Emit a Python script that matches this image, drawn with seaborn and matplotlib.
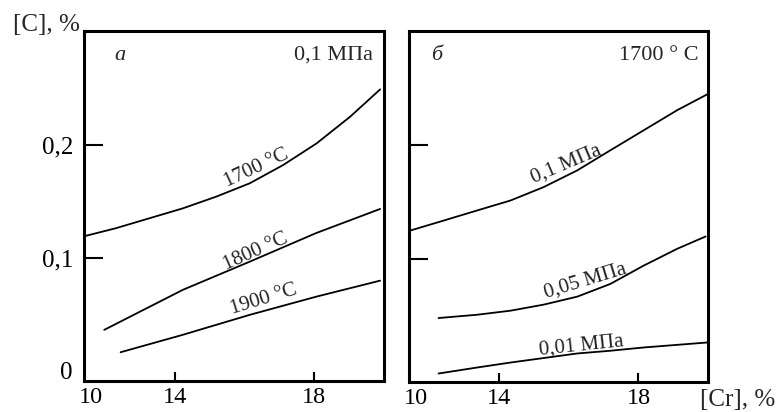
import matplotlib
matplotlib.use("Agg")
import matplotlib.pyplot as plt
import seaborn as sns
import pandas as pd

# ---- data ----
# panel "а": 0,1 MPa, three temperatures
a_1700_x = [11.35, 12.31, 13.27, 14.23, 15.19, 16.15, 17.11, 18.07, 19.03, 19.89]
a_1700_y = [0.1188, 0.1263, 0.1351, 0.1439, 0.1543, 0.1661, 0.1823, 0.2015, 0.2251, 0.2493]
a_1800_x = [11.98, 14.23, 16.15, 18.06, 19.89]
a_1800_y = [0.0363, 0.0717, 0.0967, 0.1221, 0.1434]
a_1900_x = [12.45, 14.23, 16.15, 18.07, 19.89]
a_1900_y = [0.0165, 0.0319, 0.0496, 0.0658, 0.0799]
a_labels = ["1700 °C", "1800 °C", "1900 °C"]

# panel "б": 1700 °C, three pressures
b_01_x = [11.44, 12.40, 13.36, 14.32, 15.27, 16.24, 17.19, 18.15, 19.11, 19.98]
b_01_y = [0.1248, 0.1336, 0.1425, 0.1513, 0.1631, 0.1779, 0.1956, 0.2133, 0.2310, 0.2451]
b_005_x = [12.25, 13.36, 14.32, 15.27, 16.24, 17.19, 18.15, 19.11, 19.93]
b_005_y = [0.0475, 0.0504, 0.0540, 0.0593, 0.0664, 0.0776, 0.0938, 0.1086, 0.1195]
b_001_x = [12.25, 13.36, 14.32, 16.24, 17.19, 18.15, 19.98]
b_001_y = [-0.0015, 0.0038, 0.0082, 0.0162, 0.0186, 0.0215, 0.0259]
b_labels = ["0,1 МПа", "0,05 МПа", "0,01 МПа"]

x_ticks = [11.6, 14, 18]
x_ticklabels = ["10", "14", "18"]
y_ticks = [0, 0.1, 0.2]
y_ticklabels = ["0", "0,1", "0,2"]

sns.set_theme(style="ticks")
plt.rcParams["font.family"] = ["Liberation Serif", "DejaVu Serif"]

fig = plt.figure(figsize=(7.82, 4.12), dpi=100)
axA = fig.add_axes([0.1074, 0.0752, 0.3836, 0.8495])
axB = fig.add_axes([0.5230, 0.0728, 0.3824, 0.8520])

curvesA = [(a_1700_x, a_1700_y), (a_1800_x, a_1800_y), (a_1900_x, a_1900_y)]
curvesB = [(b_01_x, b_01_y), (b_005_x, b_005_y), (b_001_x, b_001_y)]

for ax, curves in ((axA, curvesA), (axB, curvesB)):
    for xs, ys in curves:
        df = pd.DataFrame({"x": xs, "y": ys})
        sns.lineplot(data=df, x="x", y="y", ax=ax, color="black", lw=1.3,
                     sort=False, estimator=None)
    ax.set_xlim(11.4, 20.0)
    ax.set_ylim(-0.009, 0.301)
    ax.set_xlabel("")
    ax.set_ylabel("")
    for s in ax.spines.values():
        s.set_visible(True)
        s.set_linewidth(2.2)
        s.set_color("black")
    ax.set_xticks(x_ticks, labels=x_ticklabels)
    ax.set_yticks(y_ticks, labels=y_ticklabels if ax is axA else [""] * 3)
    ax.tick_params(axis="x", direction="in", length=6.5, width=1.5, pad=4,
                   labelsize=17.5, colors="black", bottom=True, top=False)
    ax.tick_params(axis="y", direction="in", length=14, width=1.5, pad=8,
                   labelsize=18, colors="black", left=True, right=False)
    ax.xaxis.get_major_ticks()[0].tick1line.set_visible(False)
    ax.yaxis.get_major_ticks()[0].tick1line.set_visible(False)
    ax.set_facecolor("white")

# curve labels
posA = [(16.33, 0.1796, 25), (16.33, 0.1053, 24), (16.56, 0.0628, 17)]
posB = [(15.93, 0.1838, 23), (16.46, 0.0805, 17), (16.36, 0.023, 6)]
for ax, labels, pos in ((axA, a_labels, posA), (axB, b_labels, posB)):
    for t, (x, y, r) in zip(labels, pos):
        ax.text(x, y, t, rotation=r, rotation_mode="anchor", ha="center",
                va="center", fontsize=15, color="#222222")

axA.text(0.12, 0.93, "а", transform=axA.transAxes, fontsize=16,
         style="italic", ha="center", va="center")
axA.text(0.963, 0.93, "0,1 МПа", transform=axA.transAxes, fontsize=16,
         ha="right", va="center")
axB.text(0.094, 0.93, "б", transform=axB.transAxes, fontsize=16,
         style="italic", ha="center", va="center")
axB.text(0.967, 0.93, "1700 ° C", transform=axB.transAxes, fontsize=16,
         ha="right", va="center")

fig.text(46 / 782, 1 - 25 / 412, "[C], %", fontsize=18, ha="center", va="center")
fig.text(738 / 782, 1 - 400 / 412, "[Cr], %", fontsize=18, ha="center", va="center")

fig.savefig("out.png", dpi=100, facecolor="white")
